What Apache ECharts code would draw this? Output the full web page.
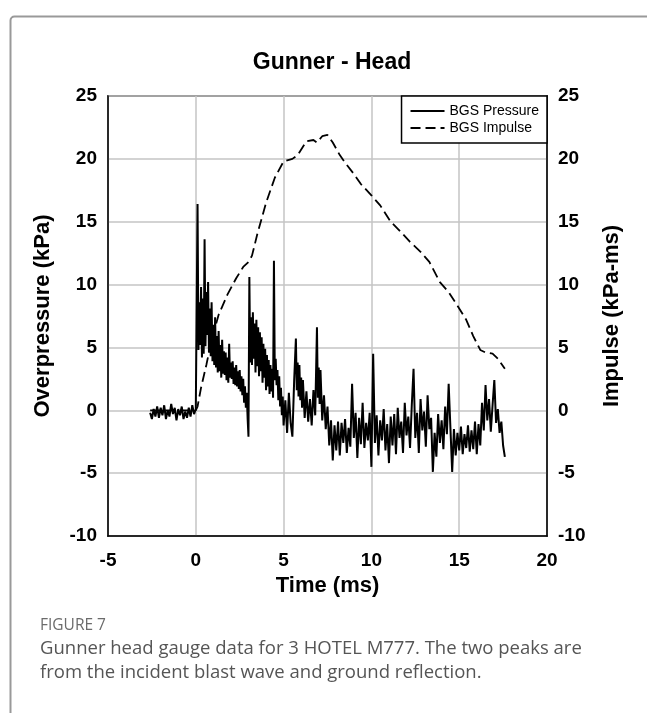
<!DOCTYPE html>
<html>
<head>
<meta charset="utf-8">
<script src="https://cdn.jsdelivr.net/npm/echarts@6/dist/echarts.min.js"></script>
<style>
html,body{margin:0;padding:0;background:#fff;}
#chart{width:647px;height:713px;}
</style>
</head>
<body>
<div id="chart"></div>
<script>
var titleText = 'Gunner - Head';
var xName = 'Time (ms)';
var yLeftName = 'Overpressure (kPa)';
var yRightName = 'Impulse (kPa-ms)';
var seriesNames = ['BGS Pressure', 'BGS Impulse'];
var captionLabel = 'FIGURE 7';
var captionLines = ['Gunner head gauge data for 3 HOTEL M777. The two peaks are', 'from the incident blast wave and ground reflection.'];
var xTicks = [-5, 0, 5, 10, 15, 20];
var yTicks = [-10, -5, 0, 5, 10, 15, 20, 25];

// BGS Pressure [time ms, kPa]
var pressure = [
[-2.6,-0.2],[-2.5,-0.7],[-2.4,0.1],[-2.3,-0.5],[-2.2,0.3],[-2.1,-0.6],[-2.0,0.2],[-1.9,-0.4],[-1.8,0.4],[-1.7,-0.7],
[-1.6,0.0],[-1.5,-0.5],[-1.4,0.5],[-1.3,-0.3],[-1.2,0.2],[-1.1,-0.8],[-1.0,0.1],[-0.9,-0.4],[-0.8,0.3],[-0.7,-0.7],
[-0.6,-0.1],[-0.5,-0.6],[-0.4,0.2],[-0.3,-0.5],[-0.2,0.4],[-0.1,-0.3],[0.0,0.1],
[0.1,16.4],[0.15,4.8],[0.2,8.6],[0.25,5.2],[0.3,9.8],[0.35,4.2],[0.4,8.9],[0.45,4.5],[0.5,13.6],[0.55,5.1],[0.6,9.4],[0.65,6.0],[0.7,10.2],[0.75,4.6],[0.8,8.1],[0.85,4.3],[0.9,8.6],[0.95,3.9],[1.0,6.8],
[1.05,3.6],[1.1,7.4],[1.15,3.4],[1.2,5.9],[1.25,3.0],[1.3,6.3],[1.35,3.1],[1.4,5.2],[1.45,2.6],[1.5,5.6],[1.55,2.9],[1.6,4.7],[1.65,2.8],[1.7,4.6],[1.75,2.4],[1.8,4.2],[1.85,2.2],[1.9,5.3],[1.95,2.6],[2.0,3.8],
[2.05,2.5],[2.1,3.9],[2.15,2.1],[2.2,3.4],[2.25,2.0],[2.3,3.6],[2.35,1.9],[2.4,3.1],[2.45,1.7],[2.5,3.2],[2.55,1.5],[2.6,2.7],[2.65,1.2],[2.7,2.5],[2.75,0.6],[2.8,1.9],[2.85,0.2],[2.9,1.4],[2.95,-0.6],[3.0,-2.1],
[3.05,10.6],[3.1,3.8],[3.15,7.4],[3.2,3.6],[3.25,7.8],[3.3,4.1],[3.35,6.9],[3.4,3.0],[3.45,7.2],[3.5,3.5],[3.55,6.6],[3.6,2.7],[3.65,6.2],[3.7,3.1],[3.75,5.8],[3.8,2.2],[3.85,5.3],[3.9,2.6],[3.95,4.9],[4.0,1.6],
[4.05,4.4],[4.1,1.9],[4.15,4.0],[4.2,1.3],[4.25,3.6],[4.3,1.5],[4.35,3.3],[4.4,1.0],[4.45,11.9],[4.5,2.4],[4.55,4.1],[4.6,2.0],[4.65,3.2],[4.7,0.8],[4.75,2.7],[4.8,0.3],[4.85,1.8],[4.9,-0.4],[4.95,1.1],[5.0,-1.2],
[5.1,0.8],[5.2,-1.8],[5.3,1.4],[5.4,-1.0],[5.5,-2.1],[5.6,2.3],[5.7,5.7],[5.75,1.6],[5.8,3.8],[5.85,1.1],[5.9,3.6],[5.95,0.8],[6.0,2.6],[6.05,0.2],
[6.1,2.4],[6.2,-0.6],[6.3,1.5],[6.4,-0.9],[6.5,0.9],[6.6,-1.2],[6.7,1.6],[6.8,-0.4],[6.9,6.6],[6.95,1.0],[7.0,3.4],[7.05,0.5],
[7.1,3.2],[7.2,-0.8],[7.3,1.2],[7.4,-1.5],[7.5,0.3],[7.6,-2.8],[7.7,-0.8],[7.8,-4.0],[7.9,-1.2],[8.0,-3.2],
[8.1,-0.9],[8.2,-3.6],[8.3,-1.0],[8.4,-2.6],[8.5,-0.7],[8.6,-3.4],[8.7,-1.4],[8.8,-2.9],[8.9,2.1],[9.0,-2.2],
[9.1,-0.2],[9.2,-3.8],[9.3,-0.6],[9.4,-2.7],[9.5,0.6],[9.6,-3.0],[9.7,-1.0],[9.8,-2.4],[9.9,-0.2],[10.0,-4.5],
[10.1,4.5],[10.2,-2.6],[10.3,-0.4],[10.4,-3.6],[10.5,-0.8],[10.6,-2.4],[10.7,0.1],[10.8,-3.2],[10.9,-1.1],[11.0,-4.2],
[11.1,-0.5],[11.2,-2.8],[11.3,-0.3],[11.4,-3.5],[11.5,0.2],[11.6,-2.2],[11.7,-0.9],[11.8,-3.4],[11.9,0.6],[12.0,-2.0],
[12.1,-0.5],[12.2,-3.0],[12.3,0.4],[12.4,3.3],[12.5,-2.2],[12.6,-0.2],[12.7,-3.4],[12.8,0.9],[12.9,-1.6],[13.0,-0.1],
[13.1,-2.9],[13.2,1.2],[13.3,-1.5],[13.4,-0.6],[13.5,-4.9],[13.6,-1.8],[13.7,-3.7],[13.8,-0.3],[13.9,-2.6],[14.0,-0.8],
[14.1,-3.1],[14.2,0.3],[14.3,-1.9],[14.4,2.1],[14.5,-1.4],[14.6,-4.9],[14.7,-1.5],[14.8,-3.6],[14.9,-1.8],[15.0,-3.2],
[15.1,-1.3],[15.2,-3.5],[15.3,-1.9],[15.4,-3.0],[15.5,-1.2],[15.6,-3.3],[15.7,-1.6],[15.8,-3.1],[15.9,-0.9],[16.0,-3.5],
[16.1,-1.1],[16.2,-2.8],[16.3,0.6],[16.4,-1.6],[16.5,2.0],[16.6,-0.8],[16.7,0.9],[16.8,-1.7],[16.9,0.4],[17.0,2.4],
[17.1,-1.0],[17.2,0.1],[17.3,-1.8],[17.4,-0.9],[17.5,-2.8],[17.6,-3.7]
];

// BGS Impulse [time ms, kPa-ms]
var impulse = [
[-2.6,0],[-1.0,0],[0.0,0],[0.1,0.3],[0.3,1.8],[0.6,3.6],[0.9,5.6],[1.3,7.6],[1.8,9.2],[2.3,10.5],
[2.7,11.4],[3.0,11.8],[3.2,12.3],[3.5,14.0],[4.0,16.5],[4.5,18.5],[5.0,19.8],[5.5,20.0],[5.8,20.3],[6.3,21.4],
[6.7,21.5],[6.9,21.3],[7.2,21.8],[7.5,21.9],[7.8,21.3],[8.2,20.3],[8.5,19.7],[9.0,18.8],[9.4,18.0],[10.0,17.1],
[10.5,16.3],[11.1,15.0],[11.6,14.3],[12.2,13.4],[12.8,12.6],[13.3,11.8],[13.9,10.2],[14.4,9.4],[15.0,8.1],[15.4,7.2],
[15.8,5.9],[16.2,4.8],[16.5,4.6],[16.9,4.5],[17.2,4.1],[17.6,3.3]
];

var FONT = '"Liberation Sans", Arial, sans-serif';
var chart = echarts.init(document.getElementById('chart'), null, {renderer: 'canvas'});

var tickLabel = {color: '#000', fontFamily: FONT, fontWeight: 'bold', fontSize: 19};
var nameStyle = {color: '#000', fontFamily: FONT, fontWeight: 'bold', fontSize: 22};

chart.setOption({
  animation: false,
  backgroundColor: '#fff',
  title: {
    text: titleText, left: 327, top: 46, textAlign: 'center',
    textStyle: {fontFamily: FONT, fontWeight: 'bold', fontSize: 23, color: '#000'}
  },
  grid: {left: 108, right: 100, top: 96, bottom: 177, show: true, borderColor: '#000', borderWidth: 1.5, backgroundColor: 'transparent'},
  legend: {
    orient: 'vertical', right: 100, top: 96,
    backgroundColor: '#fff', borderColor: '#000', borderWidth: 1.5, borderRadius: 0,
    padding: [8, 8, 8, 8], itemWidth: 34, itemHeight: 14, itemGap: 3,
    textStyle: {fontFamily: FONT, fontSize: 14, color: '#000'},
    itemStyle: {opacity: 0},
    data: seriesNames
  },
  xAxis: {
    type: 'value', min: xTicks[0], max: xTicks[xTicks.length - 1], interval: 5,
    name: xName, nameLocation: 'middle', nameGap: 36, nameTextStyle: nameStyle,
    axisLine: {show: true, onZero: false, lineStyle: {color: '#000', width: 1.5}},
    axisTick: {show: false},
    axisLabel: Object.assign({margin: 15}, tickLabel),
    splitLine: {show: true, lineStyle: {color: '#c4c4c4', width: 1.5}}
  },
  yAxis: [{
    type: 'value', min: yTicks[0], max: yTicks[yTicks.length - 1], interval: 5,
    name: yLeftName, nameLocation: 'middle', nameGap: 54, nameRotate: 90, nameTextStyle: nameStyle,
    axisLine: {show: true, onZero: false, lineStyle: {color: '#000', width: 1.5}},
    axisTick: {show: false},
    axisLabel: Object.assign({margin: 11}, tickLabel),
    splitLine: {show: true, lineStyle: {color: '#c4c4c4', width: 1.5}}
  }, {
    type: 'value', position: 'right', min: yTicks[0], max: yTicks[yTicks.length - 1], interval: 5,
    name: yRightName, nameLocation: 'middle', nameGap: 54, nameRotate: 90, nameTextStyle: nameStyle,
    axisLine: {show: true, onZero: false, lineStyle: {color: '#000', width: 1.5}},
    axisTick: {show: false},
    axisLabel: Object.assign({margin: 11}, tickLabel),
    splitLine: {show: false}
  }],
  series: [{
    name: seriesNames[0], type: 'line', yAxisIndex: 0, data: pressure,
    symbol: 'none', sampling: null, smooth: false,
    lineStyle: {color: '#000', width: 2}, itemStyle: {color: '#000'}, z: 3
  }, {
    name: seriesNames[1], type: 'line', yAxisIndex: 1, data: impulse,
    symbol: 'none', smooth: false,
    lineStyle: {color: '#000', width: 1.8, type: [10, 5]}, itemStyle: {color: '#000'}, z: 2
  }],
  graphic: [
    {type: 'rect', left: 8, top: 14, shape: {width: 700, height: 800, r: 4}, style: {fill: 'none', stroke: '#999', lineWidth: 2}, z: -1, silent: true},
    {type: 'text', left: 40, top: 618, style: {text: captionLabel, fill: '#6b6b6b', font: '15.5px "Open Sans", sans-serif'}},
    {type: 'text', left: 40, top: 639, style: {text: captionLines[0], fill: '#555', font: '18.5px "Open Sans", sans-serif'}},
    {type: 'text', left: 40, top: 663, style: {text: captionLines[1], fill: '#555', font: '18.5px "Open Sans", sans-serif'}}
  ]
});
</script>
</body>
</html>
